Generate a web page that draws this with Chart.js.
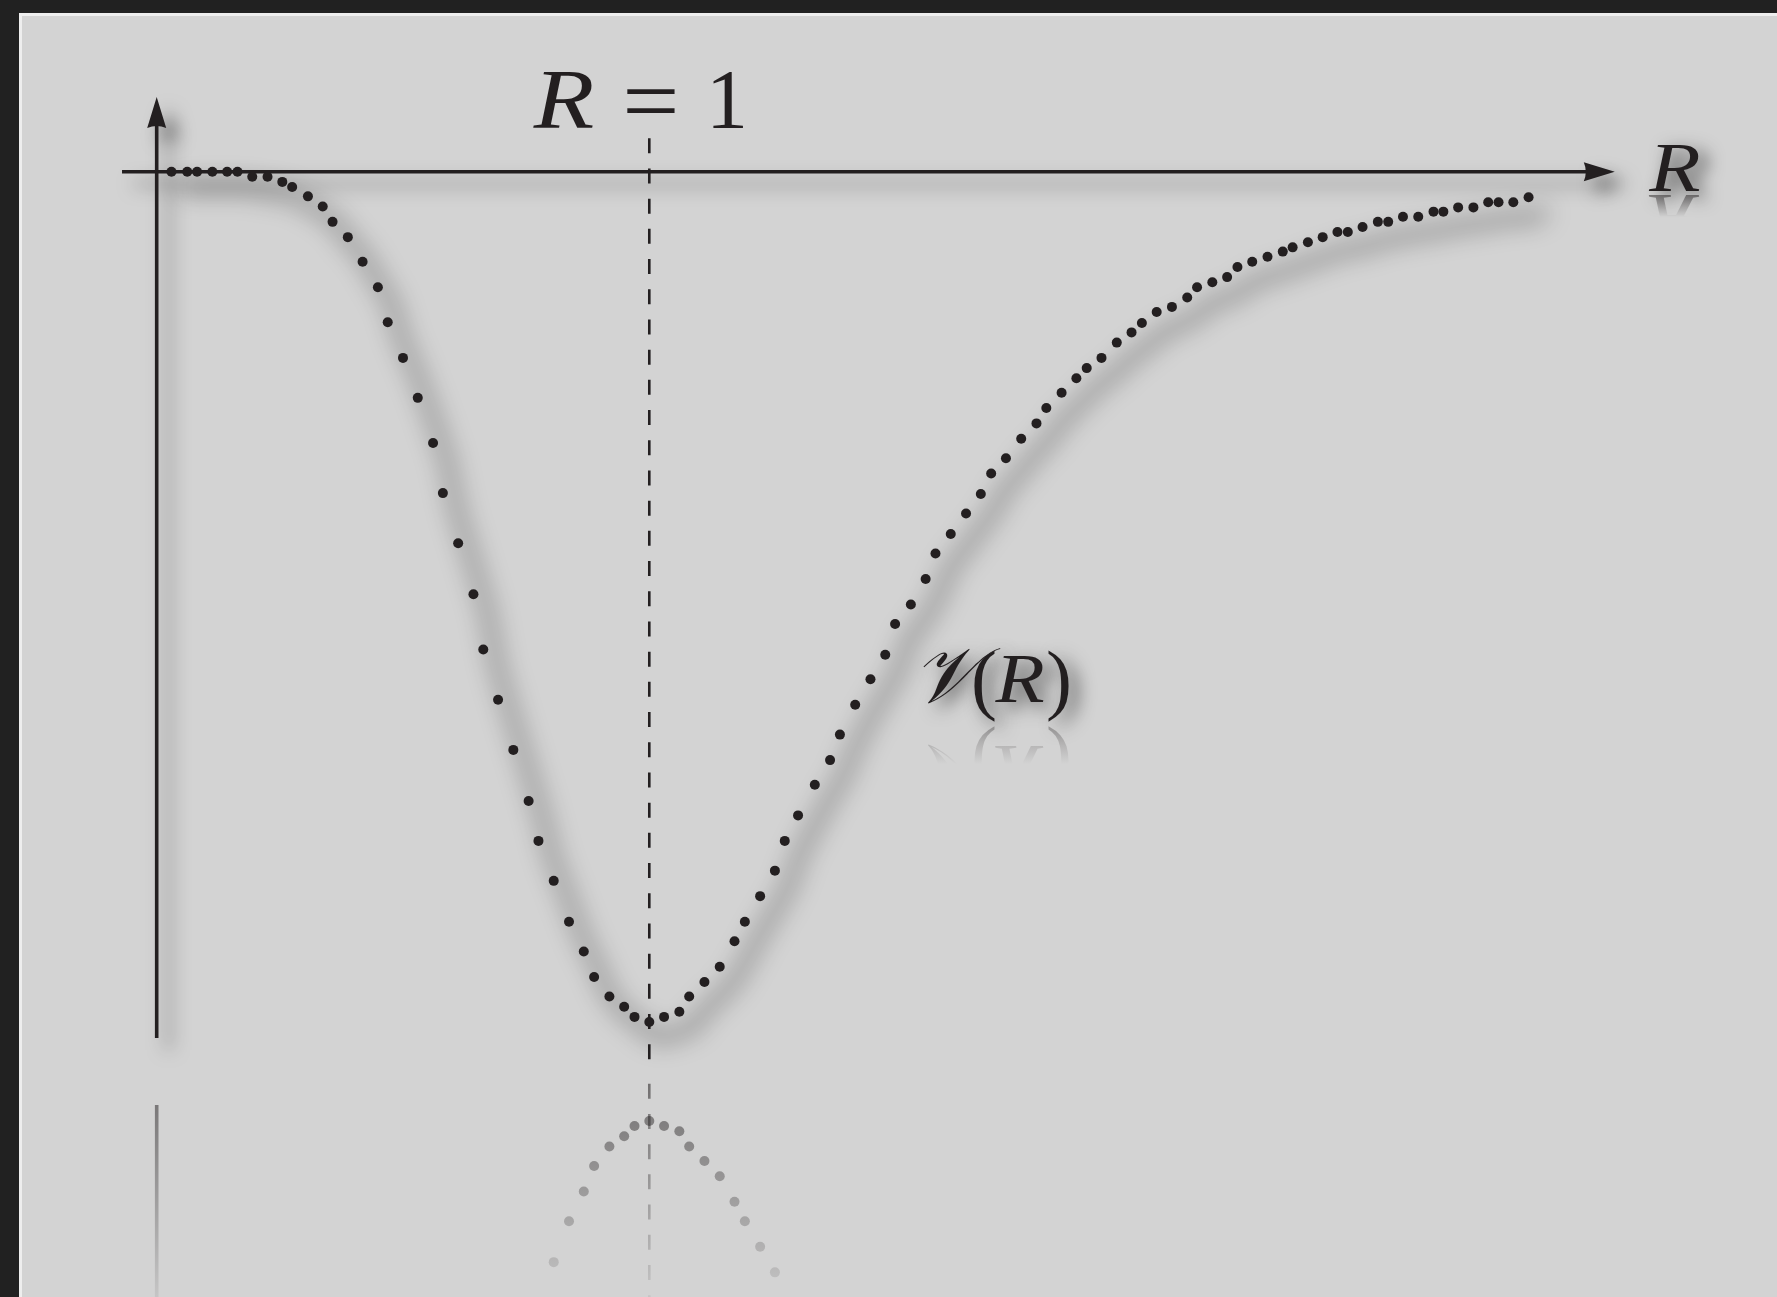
<!DOCTYPE html>
<html><head><meta charset="utf-8">
<script src="https://cdn.jsdelivr.net/npm/chart.js@4/dist/chart.umd.min.js"></script>
<style>html,body{margin:0;padding:0;background:#222;overflow:hidden}#wrap{width:1777px;height:1297px;position:relative}</style>
</head><body><div id="wrap"><canvas id="c"></canvas></div>
<script>
// ---- data ----
const separationR = [0.030,0.062,0.082,0.113,0.143,0.164,0.194,0.225,0.255,0.275,0.307,0.337,0.357,0.388,0.418,0.449,0.469,0.500,0.530,0.561,0.581,0.612,0.643,0.663,0.693,0.724,0.755,0.775,0.806,0.837,0.867,0.888,0.919,0.949,0.970,1.000,
  1.030,1.061,1.081,1.112,1.143,1.173,1.194,1.225,1.255,1.275,1.302,
  1.336,1.367,1.387,1.418,1.449,1.479,1.499,1.531,1.561,1.581,1.612,1.643,1.673,1.694,1.724,1.755,1.786,1.806,
  1.837,1.867,1.888,1.918,
  1.949,1.979,2.000,2.030,2.061,2.092,2.112,2.143,2.173,2.194,2.224,2.255,2.286,2.306,2.337,2.367,2.397,2.418,2.448,2.479,2.500,2.530,2.561,2.592,2.612,2.642,2.673,2.703,2.724,2.754,2.785];
const potentialV = [0,0,0,0,0,0,-0.006,-0.006,-0.012,-0.018,-0.029,-0.041,-0.059,-0.077,-0.106,-0.136,-0.177,-0.219,-0.266,-0.319,-0.378,-0.437,-0.497,-0.562,-0.621,-0.680,-0.740,-0.787,-0.834,-0.882,-0.917,-0.947,-0.970,-0.982,-0.994,-1.000,
  -0.994,-0.988,-0.970,-0.953,-0.935,-0.905,-0.882,-0.852,-0.822,-0.787,-0.757,
  -0.721,-0.692,-0.662,-0.627,-0.597,-0.568,-0.532,-0.509,-0.479,-0.449,-0.426,-0.402,-0.379,-0.355,-0.337,-0.314,-0.296,-0.278,
  -0.260,-0.243,-0.231,-0.219,
  -0.201,-0.189,-0.178,-0.165,-0.159,-0.148,-0.136,-0.130,-0.124,-0.112,-0.106,-0.100,-0.094,-0.089,-0.083,-0.077,-0.071,-0.071,-0.065,-0.059,-0.059,-0.053,-0.053,-0.047,-0.047,-0.042,-0.042,-0.036,-0.036,-0.036,-0.030];
const equilibriumR = 1;
const axisLabel = 'R';
const markerLabel = ['R', '=', '1'];
const curveLabel = ['𝒱', '(', 'R', ')'];

// ---- geometry / style (not data) ----
const view = { xMin: -0.3181, xMax: 3.2893, yMin: -1.3234, yMax: 0.2019 };
const axes = { xFrom: -0.0704, xTo: 2.960, yFrom: -1.0188, yTo: 0.0879, dashTop: 0.0393, mirror: -1.0582 };
const INK = '#231f20';
const SERIF = "'Liberation Serif', serif";

function withGhostShadow(ctx, color, blur, dx, dy, drawFn){
  const OFF = 20000;
  ctx.save();
  ctx.shadowColor = color; ctx.shadowBlur = blur;
  ctx.shadowOffsetX = dx + OFF; ctx.shadowOffsetY = dy;
  ctx.translate(-OFF, 0);
  drawFn();
  ctx.restore();
}

function axesPath(ctx, X, Y){
  const xa = Y(0), ya = X(0);
  ctx.lineWidth = 3.6; ctx.lineCap = 'butt';
  ctx.beginPath(); ctx.moveTo(X(axes.xFrom), xa); ctx.lineTo(X(axes.xTo) - 20, xa); ctx.stroke();
  ctx.beginPath(); ctx.moveTo(ya, Y(axes.yFrom)); ctx.lineTo(ya, Y(axes.yTo) + 20); ctx.stroke();
  const tx = X(axes.xTo);
  ctx.beginPath(); ctx.moveTo(tx, xa); ctx.lineTo(tx - 31, xa - 9.5); ctx.quadraticCurveTo(tx-27, xa, tx - 31, xa + 9.5); ctx.closePath(); ctx.fill();
  const ty = Y(axes.yTo);
  ctx.beginPath(); ctx.moveTo(ya, ty); ctx.lineTo(ya - 9.5, ty + 31); ctx.quadraticCurveTo(ya, ty+27, ya + 9.5, ty + 31); ctx.closePath(); ctx.fill();
}

// horizontal-only transform so vertical gradients stay anchored
function drawParts(ctx, parts){
  parts.forEach(p => {
    ctx.save();
    ctx.font = p.font; ctx.textAlign = 'center'; ctx.textBaseline = 'alphabetic';
    ctx.translate(p.x, 0); ctx.scale(p.sx || 1, 1);
    ctx.fillText(p.t, 0, p.y);
    ctx.restore();
  });
}

function labelParts(){
  return {
    marker: [
      { t: markerLabel[0], font: `italic 84px ${SERIF}`, x: 564, y: 128, sx: 1.18 },
      { t: markerLabel[1], font: `94px ${SERIF}`, x: 651, y: 132, sx: 1.08 },
      { t: markerLabel[2], font: `84px ${SERIF}`, x: 727, y: 128 }
    ],
    axis: [ { t: axisLabel, font: `italic 70px ${SERIF}`, x: 1675, y: 191, sx: 1.2 } ],
    curve: [
      { t: curveLabel[0], font: `italic 78px ${SERIF}`, x: 944, y: 702 },
      { t: curveLabel[1], font: `78px ${SERIF}`, x: 984, y: 705 },
      { t: curveLabel[2], font: `italic 70px ${SERIF}`, x: 1020, y: 702, sx: 1.15 },
      { t: curveLabel[3], font: `78px ${SERIF}`, x: 1059, y: 705 }
    ]
  };
}

function reflectText(ctx, parts, my, fade, a0){
  ctx.save();
  ctx.translate(0, 2 * my); ctx.scale(1, -1);
  const g = ctx.createLinearGradient(0, my, 0, my - fade);
  g.addColorStop(0, `rgba(35,31,32,${a0})`); g.addColorStop(1, 'rgba(35,31,32,0)');
  ctx.fillStyle = g;
  ctx.beginPath(); ctx.rect(0, my - fade - 2, 1777, fade + 2); ctx.clip();
  drawParts(ctx, parts);
  ctx.restore();
}

const decor = {
  id: 'decor',
  beforeDraw(chart){
    const { ctx, width, height } = chart;
    ctx.save();
    ctx.fillStyle = '#212121'; ctx.fillRect(0, 0, width, height);
    ctx.fillStyle = '#eeeeee'; ctx.fillRect(19, 13, width, height);
    ctx.fillStyle = '#d3d3d3'; ctx.fillRect(22, 16, width, height);
    ctx.restore();
  },
  beforeDatasetsDraw(chart){
    const { ctx } = chart;
    const xs = chart.scales.x, ys = chart.scales.y;
    const X = v => xs.getPixelForValue(v), Y = v => ys.getPixelForValue(v);
    const pts = chart.getDatasetMeta(0).data;
    withGhostShadow(ctx, 'rgba(0,0,0,0.36)', 24, 14, 16, () => {
      ctx.strokeStyle = '#000'; ctx.lineWidth = 11; ctx.lineCap = 'round'; ctx.lineJoin = 'round';
      ctx.beginPath();
      pts.forEach((p, i) => i ? ctx.lineTo(p.x, p.y) : ctx.moveTo(p.x, p.y));
      ctx.stroke();
    });
    withGhostShadow(ctx, 'rgba(0,0,0,0.5)', 18, 12, 12, () => { ctx.strokeStyle = '#000'; ctx.fillStyle = '#000'; axesPath(ctx, X, Y); });
    ctx.save(); ctx.strokeStyle = INK; ctx.fillStyle = INK; axesPath(ctx, X, Y); ctx.restore();
    const my = Y(axes.mirror);
    ctx.save();
    ctx.strokeStyle = INK; ctx.lineWidth = 2.6; ctx.setLineDash([15, 15.2]);
    ctx.beginPath(); ctx.moveTo(X(equilibriumR), Y(axes.dashTop)); ctx.lineTo(X(equilibriumR), my); ctx.stroke();
    ctx.restore();
  },
  afterDatasetsDraw(chart){
    const { ctx } = chart;
    const xs = chart.scales.x, ys = chart.scales.y;
    const X = v => xs.getPixelForValue(v), Y = v => ys.getPixelForValue(v);
    const pts = chart.getDatasetMeta(0).data;
    const my = Y(axes.mirror), fade = 260;
    ctx.save();
    ctx.translate(0, 2 * my); ctx.scale(1, -1);
    const g = ctx.createLinearGradient(0, my, 0, my - fade);
    g.addColorStop(0, 'rgba(35,31,32,0.58)'); g.addColorStop(1, 'rgba(35,31,32,0)');
    ctx.strokeStyle = g; ctx.fillStyle = g;
    ctx.lineWidth = 3.6;
    ctx.beginPath(); ctx.moveTo(X(0), Y(axes.yFrom)); ctx.lineTo(X(0), Y(0)); ctx.stroke();
    ctx.lineWidth = 2.6; ctx.setLineDash([15, 15.2]);
    ctx.beginPath(); ctx.moveTo(X(equilibriumR), Y(axes.dashTop)); ctx.lineTo(X(equilibriumR), my); ctx.stroke();
    ctx.setLineDash([]);
    pts.forEach(p => { ctx.beginPath(); ctx.arc(p.x, p.y, 5, 0, Math.PI * 2); ctx.fill(); });
    ctx.restore();

    const L = labelParts();
    ctx.save(); ctx.fillStyle = INK; drawParts(ctx, L.marker); ctx.restore();
    withGhostShadow(ctx, 'rgba(0,0,0,0.7)', 18, 8, 6, () => { ctx.fillStyle = '#000'; drawParts(ctx, L.axis); drawParts(ctx, L.curve); });
    ctx.save(); ctx.fillStyle = INK; drawParts(ctx, L.axis); drawParts(ctx, L.curve); ctx.restore();
    reflectText(ctx, L.axis, 193, 24, 0.55);
    reflectText(ctx, L.curve, 724, 40, 0.35);
  }
};

const points = separationR.map((r, i) => ({ x: r, y: potentialV[i] }));
new Chart(document.getElementById('c'), {
  type: 'scatter',
  data: { datasets: [{ data: points, pointRadius: 5, pointHoverRadius: 5, pointBackgroundColor: INK, pointBorderWidth: 0, showLine: false }] },
  options: {
    responsive: true, maintainAspectRatio: false, animation: false, events: [],
    layout: { padding: 0, autoPadding: false },
    plugins: { legend: { display: false }, tooltip: { enabled: false } },
    scales: {
      x: { type: 'linear', display: false, min: view.xMin, max: view.xMax },
      y: { type: 'linear', display: false, min: view.yMin, max: view.yMax }
    }
  },
  plugins: [decor]
});
</script></body></html>
